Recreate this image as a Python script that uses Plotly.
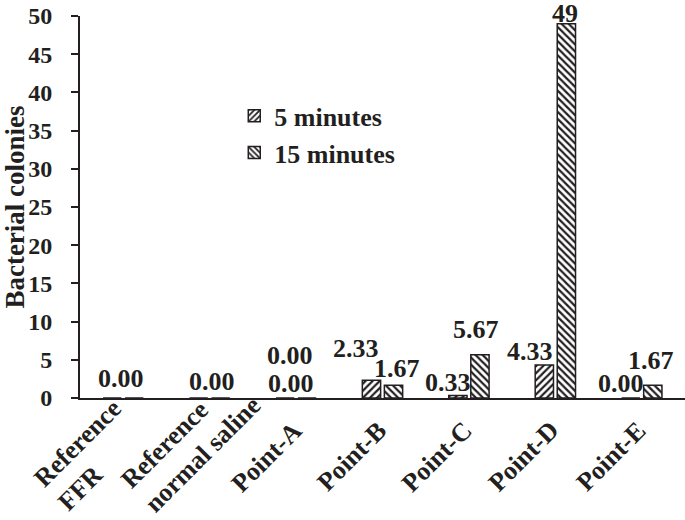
import plotly.graph_objects as go

categories = ["Reference<br>FFR", "Reference<br>normal saline", "Point-A", "Point-B",
              "Point-C", "Point-D", "Point-E"]
series_names = ["5 minutes", "15 minutes"]
values_5min = [0.0, 0.0, 0.0, 2.33, 0.33, 4.33, 0.0]
values_15min = [0.0, 0.0, 0.0, 1.67, 5.67, 49.0, 1.67]
labels_5min = ["0.00", "0.00", "0.00", "2.33", "0.33", "4.33", "0.00"]
labels_15min = [None, None, "0.00", "1.67", "5.67", "49", "1.67"]
y_ticks = [0, 5, 10, 15, 20, 25, 30, 35, 40, 45, 50]

# style: pixel offsets of value labels from each bar's top centre
dx_5 = [10, 14, 6, -15, -9, -13, -9]
dy_5 = [20, 17, 43, 32, 13, 13, 15]
dx_15 = [0, 0, -17, 2, -5, -2, -3]
dy_15 = [0, 0, 15, 17, 25, 10, 25]
# style: pixel offsets of rotated category-label centres from category centre on the axis
cat_dx = [-34, -19, -30, -31, -32, -32, -31]
cat_dy = [-57, -44, -59, -58, -58, -58, -58]

FONT = "Liberation Serif"
INK = "#231f20"

fig = go.Figure()
for name, vals, shape in [(series_names[0], values_5min, "/"),
                          (series_names[1], values_15min, "\\")]:
    fig.add_trace(go.Bar(
        x=categories, y=vals, name=name,
        marker=dict(color="white", line=dict(color=INK, width=1.5),
                    pattern=dict(shape=shape, fgcolor=INK, bgcolor="white",
                                 size=5, solidity=0.45, fillmode="replace")),
    ))

annotations = []
for offset_group, vals, labs, dxs, dys in [(0, values_5min, labels_5min, dx_5, dy_5),
                                           (1, values_15min, labels_15min, dx_15, dy_15)]:
    for i, (v, t) in enumerate(zip(vals, labs)):
        if t is None:
            continue
        annotations.append(dict(
            x=categories[i], y=v, xref="x", yref="y", text=t, showarrow=False,
            xshift=(-12 if offset_group == 0 else 12) + dxs[i], yshift=dys[i],
            yanchor="middle", xanchor="center",
            font=dict(family=FONT, size=26, color=INK, weight="bold"),
        ))

# category labels: rotated, lines left-aligned (as in the original)
for i, c in enumerate(categories):
    annotations.append(dict(
        x=c, y=0, xref="x", yref="paper", text=c, showarrow=False,
        textangle=-45, align="left", xanchor="center", yanchor="middle",
        xshift=cat_dx[i], yshift=cat_dy[i],
        font=dict(family=FONT, size=26, color=INK, weight="bold"),
    ))

fig.update_layout(
    width=685, height=520,
    margin=dict(l=80, r=0, t=16, b=122),
    paper_bgcolor="white", plot_bgcolor="white",
    barmode="group", bargap=0.49, bargroupgap=0.17,
    font=dict(family=FONT, size=26, color=INK, weight="bold"),
    showlegend=True,
    legend=dict(x=0.255, y=0.80, xanchor="left", yanchor="top",
                bgcolor="rgba(0,0,0,0)", itemwidth=30,
                font=dict(family=FONT, size=26, color=INK, weight="bold")),
    annotations=annotations,
)
fig.update_xaxes(
    type="category", range=[-0.5, 6.5], automargin=False,
    showline=True, linecolor=INK, linewidth=2, ticks="", showticklabels=False,
    showgrid=False,
)
fig.update_yaxes(
    range=[0, 50], tickvals=y_ticks, showline=True, linecolor=INK, linewidth=2,
    ticks="outside", ticklen=7, tickwidth=2, tickcolor=INK, showgrid=False,
    zeroline=False, automargin=False, ticklabelstandoff=14,
    tickfont=dict(family=FONT, size=24, color=INK, weight="bold"),
    title=dict(text="Bacterial colonies", standoff=22,
               font=dict(family=FONT, size=27, color=INK, weight="bold")),
)
fig.update_traces(cliponaxis=False)

# remove the page's default 8px body margin so the figure fills the window
fig.write_html("out.html", config={"displayModeBar": False},
               post_script="document.body.style.margin='0';")
